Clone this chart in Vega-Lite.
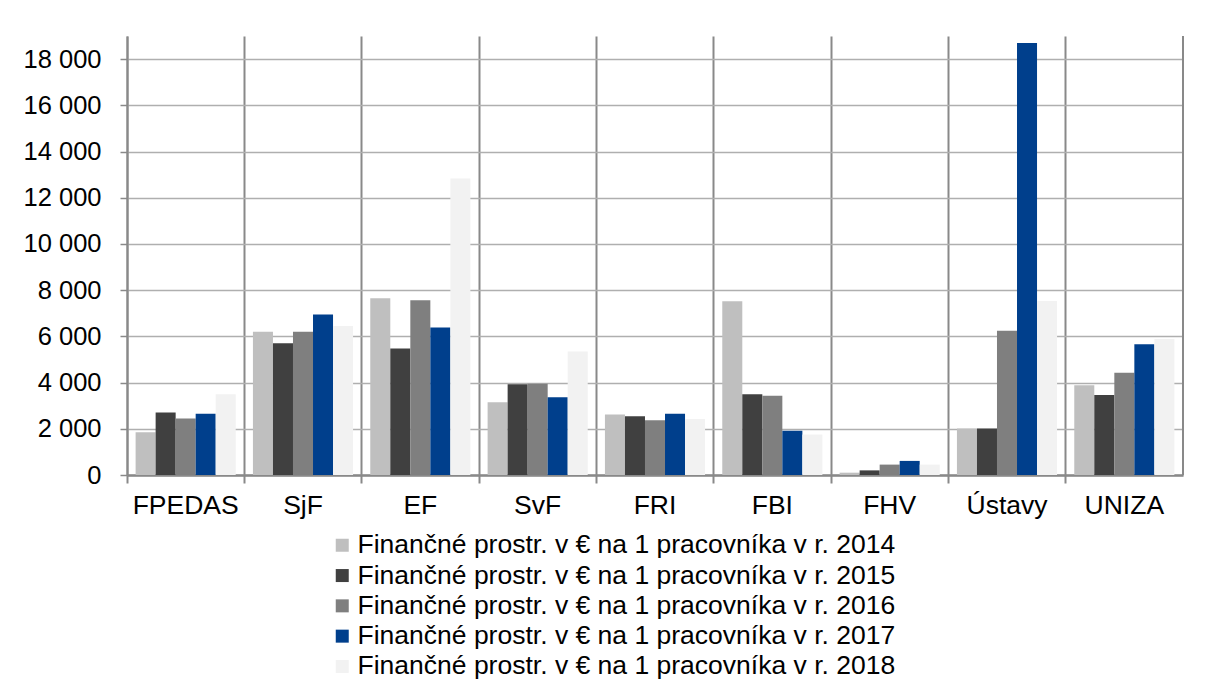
{
  "$schema": "https://vega.github.io/schema/vega-lite/v6.json",
  "autosize": "none",
  "width": 1056,
  "height": 439,
  "padding": {"left": 127, "top": 36, "right": 25, "bottom": 207},
  "background": "white",
  "config": {
    "font": "Liberation Sans",
    "view": {"stroke": null},
    "axis": {"labelFont": "Liberation Sans", "labelColor": "black", "title": null}
  },
  "data": {
    "values": [
      {"c": "FPEDAS", "rok": "2014", "v": 1850},
      {"c": "FPEDAS", "rok": "2015", "v": 2700},
      {"c": "FPEDAS", "rok": "2016", "v": 2450},
      {"c": "FPEDAS", "rok": "2017", "v": 2650},
      {"c": "FPEDAS", "rok": "2018", "v": 3500},
      {"c": "SjF", "rok": "2014", "v": 6200},
      {"c": "SjF", "rok": "2015", "v": 5700},
      {"c": "SjF", "rok": "2016", "v": 6200},
      {"c": "SjF", "rok": "2017", "v": 6950},
      {"c": "SjF", "rok": "2018", "v": 6450},
      {"c": "EF", "rok": "2014", "v": 7650},
      {"c": "EF", "rok": "2015", "v": 5480},
      {"c": "EF", "rok": "2016", "v": 7560},
      {"c": "EF", "rok": "2017", "v": 6380},
      {"c": "EF", "rok": "2018", "v": 12830},
      {"c": "SvF", "rok": "2014", "v": 3150},
      {"c": "SvF", "rok": "2015", "v": 3930},
      {"c": "SvF", "rok": "2016", "v": 3950},
      {"c": "SvF", "rok": "2017", "v": 3370},
      {"c": "SvF", "rok": "2018", "v": 5350},
      {"c": "FRI", "rok": "2014", "v": 2620},
      {"c": "FRI", "rok": "2015", "v": 2540},
      {"c": "FRI", "rok": "2016", "v": 2370},
      {"c": "FRI", "rok": "2017", "v": 2650},
      {"c": "FRI", "rok": "2018", "v": 2420},
      {"c": "FBI", "rok": "2014", "v": 7520},
      {"c": "FBI", "rok": "2015", "v": 3500},
      {"c": "FBI", "rok": "2016", "v": 3430},
      {"c": "FBI", "rok": "2017", "v": 1920},
      {"c": "FBI", "rok": "2018", "v": 1750},
      {"c": "FHV", "rok": "2014", "v": 100},
      {"c": "FHV", "rok": "2015", "v": 200},
      {"c": "FHV", "rok": "2016", "v": 450},
      {"c": "FHV", "rok": "2017", "v": 610},
      {"c": "FHV", "rok": "2018", "v": 450},
      {"c": "Ústavy", "rok": "2014", "v": 2010},
      {"c": "Ústavy", "rok": "2015", "v": 2010},
      {"c": "Ústavy", "rok": "2016", "v": 6240},
      {"c": "Ústavy", "rok": "2017", "v": 18700},
      {"c": "Ústavy", "rok": "2018", "v": 7530},
      {"c": "UNIZA", "rok": "2014", "v": 3880},
      {"c": "UNIZA", "rok": "2015", "v": 3460},
      {"c": "UNIZA", "rok": "2016", "v": 4430},
      {"c": "UNIZA", "rok": "2017", "v": 5660},
      {"c": "UNIZA", "rok": "2018", "v": 5890}
    ]
  },
  "layer": [
    {
      "mark": {"type": "bar"},
      "encoding": {
        "x": {
          "field": "c",
          "type": "nominal",
          "sort": null,
          "scale": {"paddingInner": 0, "paddingOuter": 0},
          "axis": {
            "orient": "bottom",
            "ticks": false,
            "grid": false,
            "domainColor": "#898989",
            "domainWidth": 2.5,
            "labelAngle": 0,
            "labelFontSize": 26.5,
            "labelPadding": 17
          }
        },
        "xOffset": {
          "field": "rok",
          "type": "nominal",
          "scale": {"paddingInner": 0, "paddingOuter": 0.43}
        },
        "y": {
          "field": "v",
          "type": "quantitative",
          "scale": {"domain": [0, 19000], "nice": false},
          "axis": {
            "values": [0, 2000, 4000, 6000, 8000, 10000, 12000, 14000, 16000, 18000],
            "labelExpr": "replace(format(datum.value, ','), ',', ' ')",
            "labelFontSize": 25.5,
            "labelPadding": 19,
            "tickSize": 7,
            "tickColor": "#898989",
            "tickWidth": 1.5,
            "domainColor": "#898989",
            "domainWidth": 2,
            "gridColor": "#AFAFAF",
            "gridWidth": 1.3
          }
        },
        "color": {
          "field": "rok",
          "type": "nominal",
          "scale": {
            "domain": ["2014", "2015", "2016", "2017", "2018"],
            "range": ["#BFBFBF", "#404040", "#7F7F7F", "#003F8C", "#F2F2F2"]
          },
          "legend": {
            "orient": "none",
            "legendX": 202,
            "legendY": 496,
            "direction": "vertical",
            "title": null,
            "padding": 0,
            "symbolType": "square",
            "symbolSize": 169,
            "symbolStrokeWidth": 0,
            "labelFontSize": 26.5,
            "labelFont": "Liberation Sans",
            "labelColor": "black",
            "labelOffset": 2,
            "labelLimit": 0,
            "rowPadding": 3.3,
            "labelExpr": "'Finančné prostr. v € na 1 pracovníka v r. ' + datum.label"
          }
        }
      }
    },
    {
      "transform": [{"filter": "datum.c == 'UNIZA' && datum.rok == '2014'"}],
      "mark": {"type": "rule", "color": "#898989", "strokeWidth": 2},
      "encoding": {
        "x": {
          "field": "c",
          "type": "nominal",
          "sort": null,
          "bandPosition": 1,
          "axis": {
            "orient": "bottom",
            "bandPosition": 0,
            "labels": false,
            "domain": false,
            "ticks": true,
            "tickSize": 8,
            "tickColor": "#898989",
            "tickWidth": 2,
            "grid": true,
            "gridColor": "#898989",
            "gridWidth": 2
          }
        }
      }
    }
  ],
  "resolve": {"axis": {"x": "independent"}}
}
